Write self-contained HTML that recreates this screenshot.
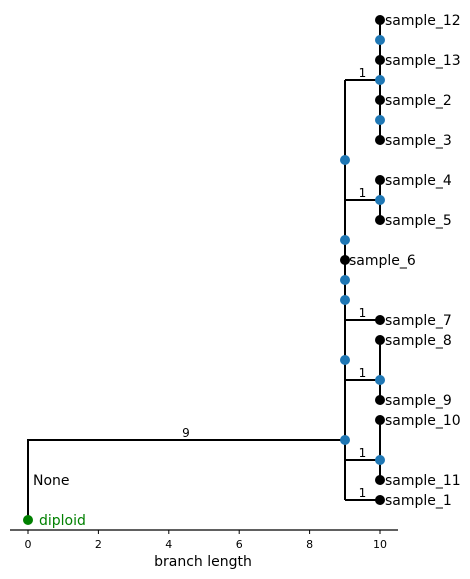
<!DOCTYPE html>
<html><head><meta charset="utf-8"><style>body{margin:0;background:#fff}svg{display:block}</style></head>
<body>
<svg width="470" height="579" xmlns="http://www.w3.org/2000/svg" font-family="DejaVu Sans, sans-serif">
<g stroke="#000" stroke-width="2" fill="none">
<line x1="380" y1="20" x2="380" y2="140"/>
<line x1="345" y1="80" x2="380" y2="80"/>
<line x1="380" y1="180" x2="380" y2="220"/>
<line x1="345" y1="200" x2="380" y2="200"/>
<line x1="345" y1="80" x2="345" y2="500"/>
<line x1="345" y1="320" x2="380" y2="320"/>
<line x1="380" y1="340" x2="380" y2="400"/>
<line x1="345" y1="380" x2="380" y2="380"/>
<line x1="380" y1="420" x2="380" y2="480"/>
<line x1="345" y1="460" x2="380" y2="460"/>
<line x1="345" y1="500" x2="380" y2="500"/>
<polyline points="28,520 28,440 345,440"/>
</g>
<g fill="#000">
<circle cx="380" cy="20" r="5"/><circle cx="380" cy="60" r="5"/><circle cx="380" cy="100" r="5"/><circle cx="380" cy="140" r="5"/>
<circle cx="380" cy="180" r="5"/><circle cx="380" cy="220" r="5"/><circle cx="345" cy="260" r="5"/>
<circle cx="380" cy="320" r="5"/><circle cx="380" cy="340" r="5"/><circle cx="380" cy="400" r="5"/>
<circle cx="380" cy="420" r="5"/><circle cx="380" cy="480" r="5"/><circle cx="380" cy="500" r="5"/>
</g>
<g fill="#1f77b4">
<circle cx="380" cy="40" r="5"/><circle cx="380" cy="80" r="5"/><circle cx="380" cy="120" r="5"/>
<circle cx="345" cy="160" r="5"/><circle cx="380" cy="200" r="5"/><circle cx="345" cy="240" r="5"/>
<circle cx="345" cy="280" r="5"/><circle cx="345" cy="300" r="5"/><circle cx="345" cy="360" r="5"/>
<circle cx="380" cy="380" r="5"/><circle cx="345" cy="440" r="5"/><circle cx="380" cy="460" r="5"/>
</g>
<circle cx="28" cy="520" r="5" fill="#008000"/>
<g font-size="14" fill="#000">
<text x="385" y="25">sample_12</text><text x="385" y="65">sample_13</text><text x="385" y="105">sample_2</text>
<text x="385" y="145">sample_3</text><text x="385" y="185">sample_4</text><text x="385" y="225">sample_5</text>
<text x="349" y="265">sample_6</text><text x="385" y="325">sample_7</text><text x="385" y="345">sample_8</text>
<text x="385" y="405">sample_9</text><text x="385" y="425">sample_10</text><text x="385" y="485">sample_11</text>
<text x="385" y="505">sample_1</text><text x="33" y="485">None</text>
<text x="39" y="525" fill="#008000">diploid</text>
</g>
<g font-size="12" fill="#000" text-anchor="middle">
<text x="362.5" y="77">1</text><text x="362.5" y="197">1</text><text x="362.5" y="317">1</text>
<text x="362.5" y="377">1</text><text x="362.5" y="457">1</text><text x="362.5" y="497">1</text>
<text x="186" y="437">9</text>
</g>
<line x1="10" y1="530" x2="398" y2="530" stroke="#000" stroke-width="1.2"/>
<g stroke="#000" stroke-width="1">
<line x1="28" y1="530" x2="28" y2="534"/><line x1="98.4" y1="530" x2="98.4" y2="534"/>
<line x1="168.8" y1="530" x2="168.8" y2="534"/><line x1="239.2" y1="530" x2="239.2" y2="534"/>
<line x1="309.6" y1="530" x2="309.6" y2="534"/><line x1="380" y1="530" x2="380" y2="534"/>
</g>
<g font-size="11" fill="#000" text-anchor="middle">
<text x="28" y="548">0</text><text x="98.4" y="548">2</text><text x="168.8" y="548">4</text>
<text x="239.2" y="548">6</text><text x="309.6" y="548">8</text><text x="380" y="548">10</text>
</g>
<text x="203" y="566" font-size="14" text-anchor="middle" fill="#000">branch length</text>
</svg>
</body></html>
